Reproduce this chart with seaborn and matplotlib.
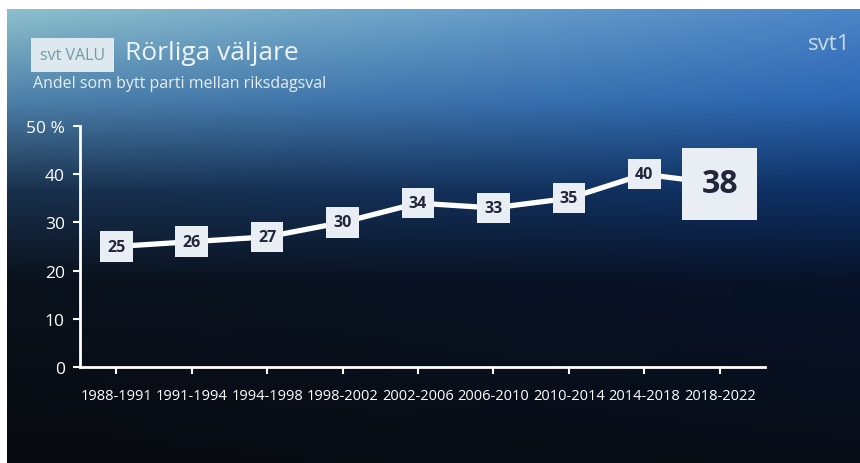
import matplotlib
matplotlib.use("Agg")
import matplotlib.pyplot as plt
import numpy as np
import pandas as pd
import seaborn as sns

# data
perioder = ["1988-1991", "1991-1994", "1994-1998", "1998-2002", "2002-2006",
            "2006-2010", "2010-2014", "2014-2018", "2018-2022"]
andel = [25, 26, 27, 30, 34, 33, 35, 40, 38]
y_ticks = [0, 10, 20, 30, 40, 50]
y_labels = ["0", "10", "20", "30", "40", "50 %"]

df = pd.DataFrame({"period": perioder, "andel": andel})

sns.set_theme(style="white")
plt.rcParams["font.family"] = ["Open Sans", "DejaVu Sans"]

W, H = 860, 464
fig = plt.figure(figsize=(W / 100, H / 100), dpi=100)
fig.patch.set_facecolor("white")

# background gradient (tv screen look)
bg = fig.add_axes([7 / W, 0, 1 - 7 / W, 1 - 10 / H], zorder=-1)
stops = [0.0, 0.2, 0.4, 0.6, 1.0]
left_c = np.array([[0.55, 0.75, 0.80], [0.30, 0.50, 0.66], [0.10, 0.19, 0.30],
                   [0.04, 0.07, 0.11], [0.03, 0.04, 0.06]])
right_c = np.array([[0.30, 0.52, 0.78], [0.17, 0.40, 0.70], [0.05, 0.19, 0.40],
                    [0.03, 0.07, 0.16], [0.03, 0.05, 0.09]])
ny, nx = 200, 200
yy = np.linspace(0, 1, ny)
xx = np.linspace(0, 1, nx)[None, :, None]
lc = np.stack([np.interp(yy, stops, left_c[:, k]) for k in range(3)], axis=-1)[:, None, :]
rc = np.stack([np.interp(yy, stops, right_c[:, k]) for k in range(3)], axis=-1)[:, None, :]
img = lc * (1 - xx) + rc * xx
bg.imshow(img, aspect="auto", extent=[0, 1, 1, 0], interpolation="bicubic")
bg.set_axis_off()

# header texts
fig.text(40 / W, 1 - 56 / H, "svt VALU", fontsize=11.5, color="#6f9aa8",
         va="center", ha="left",
         bbox=dict(boxstyle="square,pad=0.55", fc="#dde9ee", ec="none"))
fig.text(125 / W, 1 - 54 / H, "Rörliga väljare", fontsize=19, color="#eef4f7",
         va="center", ha="left")
fig.text(33 / W, 1 - 84 / H, "Andel som bytt parti mellan riksdagsval",
         fontsize=11.5, color="#e6eef3", va="center", ha="left")
fig.text(850 / W, 1 - 45 / H, "svt1", fontsize=16, color="#c9dcec",
         va="center", ha="right")

# main chart
ax = fig.add_axes([80 / W, 1 - 368 / H, 685 / W, (368 - 127) / H])
ax.patch.set_alpha(0)
sns.lineplot(data=df, x="period", y="andel", sort=False, ax=ax,
             color="white", linewidth=3.8, zorder=2)

ax.set_xlim(-0.48, 8.6)
ax.set_ylim(0, 50)
ax.set_yticks(y_ticks)
ax.set_yticklabels(y_labels)
ax.set_xlabel("")
ax.set_ylabel("")
for s in ["top", "right"]:
    ax.spines[s].set_visible(False)
for s in ["left", "bottom"]:
    ax.spines[s].set_color("white")
    ax.spines[s].set_linewidth(2)
ax.tick_params(axis="y", colors="white", labelsize=12.5, length=5, width=1.5,
               direction="out", left=True, pad=6)
ax.tick_params(axis="x", colors="white", labelsize=10.5, length=5, width=1.5,
               direction="out", bottom=True, pad=10)

# value boxes
for i, v in enumerate(andel):
    last = i == len(andel) - 1
    ax.text(i, v, str(v), ha="center", va="center",
            fontsize=23 if last else 11.5, fontweight="bold", color="#22263a",
            zorder=3,
            bbox=dict(boxstyle="square,pad=0.6" if last else "square,pad=0.45",
                      fc="#e9eef5", ec="none"))

fig.savefig("out.png", dpi=100)
